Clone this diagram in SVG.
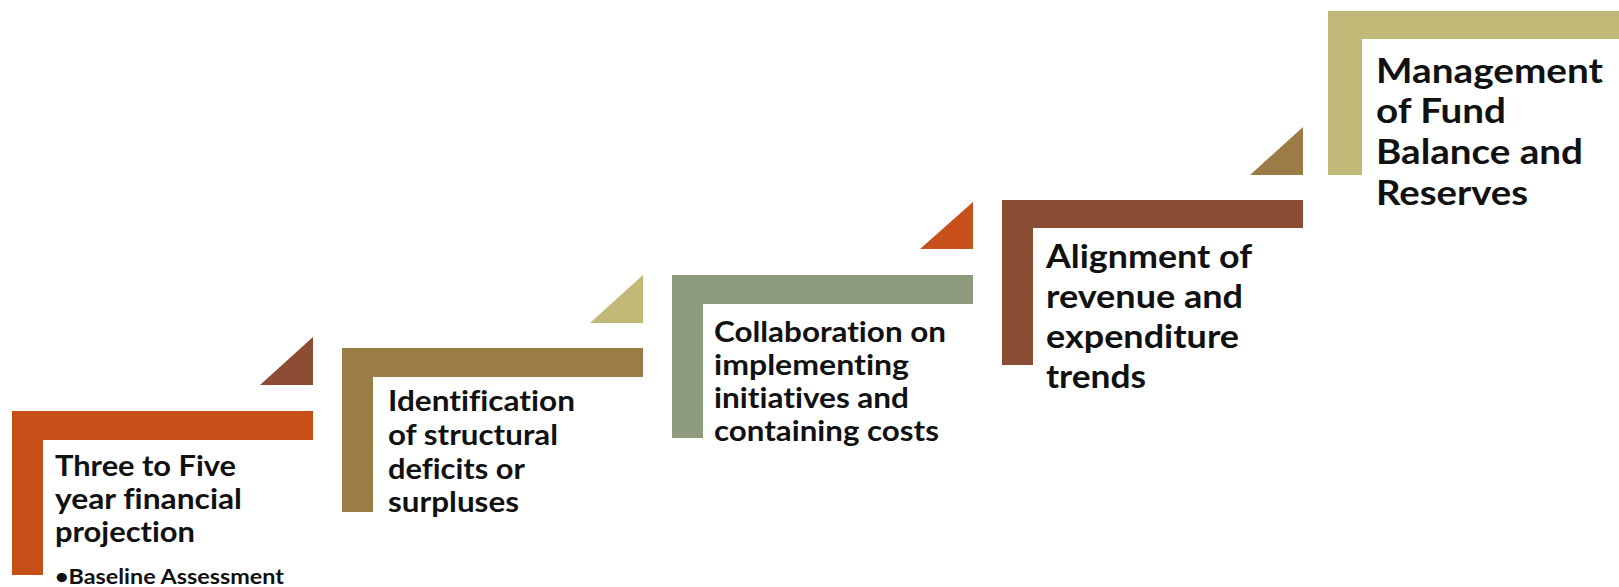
<svg xmlns="http://www.w3.org/2000/svg" width="1619" height="587" viewBox="0 0 1619 587">
  <style>
    text { font-family: Lato, "Open Sans", "Liberation Sans", sans-serif; font-weight: 700; fill: #111; font-variant-ligatures: none; }
    .sm { font-size: 28px; }
    .lg4 { font-size: 33px; }
    .lg5 { font-size: 35px; }
    .bul { font-size: 20px; }
  </style>
  <rect width="1619" height="587" fill="#ffffff"/>

  <!-- step arrows between stages -->
  <g id="connectors">
    <polygon points="260,385 313,337 313,385" fill="#8B4C33"/>
    <polygon points="590,323 643,275 643,323" fill="#C2B878"/>
    <polygon points="920,249 973,202 973,249" fill="#C8501A"/>
    <polygon points="1250,175 1303,127 1303,175" fill="#9C7B47"/>
  </g>

  <g id="step1">
    <path d="M12,411 H313 V440 H43 V575 H12 Z" fill="#C64F18"/>
    <text class="sm" x="55" y="476" textLength="181" lengthAdjust="spacingAndGlyphs">Three to Five</text>
    <text class="sm" x="55" y="509" textLength="187" lengthAdjust="spacingAndGlyphs">year financial</text>
    <text class="sm" x="55" y="542" textLength="140" lengthAdjust="spacingAndGlyphs">projection</text>
    <text class="bul" x="55" y="584" textLength="229" lengthAdjust="spacingAndGlyphs">•Baseline Assessment</text>
  </g>

  <g id="step2">
    <path d="M342,348 H643 V377 H373 V512 H342 Z" fill="#9A7C47"/>
    <text class="sm" x="388" y="411" textLength="187" lengthAdjust="spacingAndGlyphs">Identification</text>
    <text class="sm" x="388" y="445" textLength="170" lengthAdjust="spacingAndGlyphs">of structural</text>
    <text class="sm" x="388" y="479" textLength="137" lengthAdjust="spacingAndGlyphs">deficits or</text>
    <text class="sm" x="388" y="512" textLength="131" lengthAdjust="spacingAndGlyphs">surpluses</text>
  </g>

  <g id="step3">
    <path d="M672,275 H973 V304 H703 V438 H672 Z" fill="#8F9B7D"/>
    <text class="sm" x="714" y="342" textLength="232" lengthAdjust="spacingAndGlyphs">Collaboration on</text>
    <text class="sm" x="714" y="375" textLength="195" lengthAdjust="spacingAndGlyphs">implementing</text>
    <text class="sm" x="714" y="408" textLength="195" lengthAdjust="spacingAndGlyphs">initiatives and</text>
    <text class="sm" x="714" y="441" textLength="225" lengthAdjust="spacingAndGlyphs">containing costs</text>
  </g>

  <g id="step4">
    <path d="M1002,200 H1303 V228 H1033 V365 H1002 Z" fill="#8A4C33"/>
    <text class="lg4" x="1046" y="268" textLength="206" lengthAdjust="spacingAndGlyphs">Alignment of</text>
    <text class="lg4" x="1046" y="308" textLength="197" lengthAdjust="spacingAndGlyphs">revenue and</text>
    <text class="lg4" x="1046" y="348" textLength="193" lengthAdjust="spacingAndGlyphs">expenditure</text>
    <text class="lg4" x="1046" y="388" textLength="100" lengthAdjust="spacingAndGlyphs">trends</text>
  </g>

  <g id="step5">
    <path d="M1328,11 H1619 V39 H1362 V175 H1328 Z" fill="#C1B878"/>
    <text class="lg5" x="1376" y="83" textLength="227" lengthAdjust="spacingAndGlyphs">Management</text>
    <text class="lg5" x="1376" y="123" textLength="130" lengthAdjust="spacingAndGlyphs">of Fund</text>
    <text class="lg5" x="1376" y="164" textLength="207" lengthAdjust="spacingAndGlyphs">Balance and</text>
    <text class="lg5" x="1376" y="205" textLength="152" lengthAdjust="spacingAndGlyphs">Reserves</text>
  </g>
</svg>
